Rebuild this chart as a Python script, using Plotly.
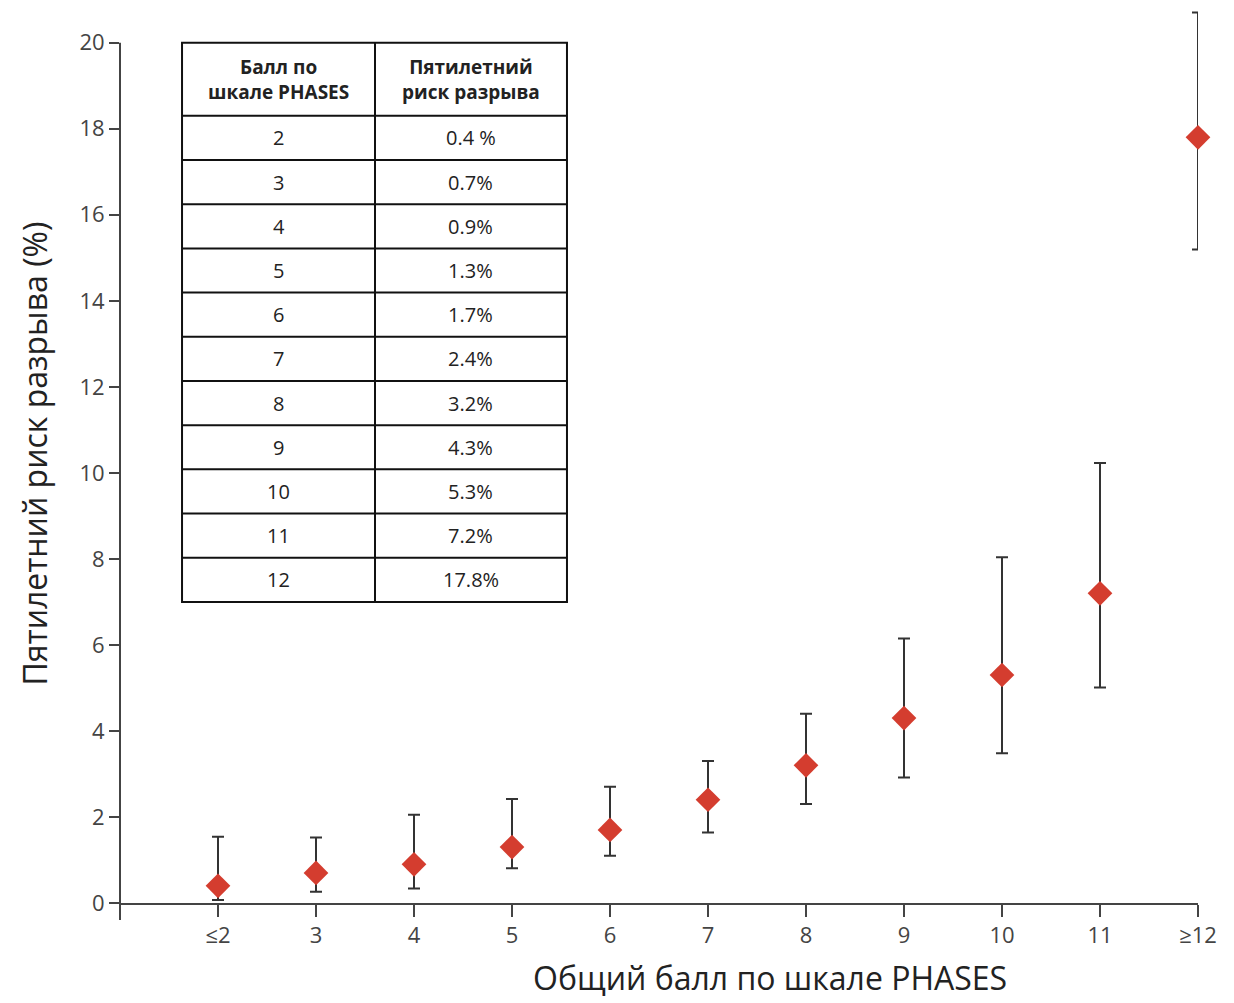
import plotly.graph_objects as go

# PHASES score categories and 5-year rupture risk (%)
categories = ['≤2', '3', '4', '5', '6', '7', '8', '9', '10', '11', '≥12']
risk = [0.4, 0.7, 0.9, 1.3, 1.7, 2.4, 3.2, 4.3, 5.3, 7.2, 17.8]
ci_high = [1.54, 1.52, 2.05, 2.42, 2.70, 3.30, 4.40, 6.15, 8.04, 10.23, 20.7]
ci_low = [0.07, 0.26, 0.34, 0.81, 1.10, 1.64, 2.30, 2.92, 3.48, 5.01, 15.19]

table_header = ['Балл по<br>шкале PHASES', 'Пятилетний<br>риск разрыва']
table_scores = ['2', '3', '4', '5', '6', '7', '8', '9', '10', '11', '12']
table_risk = ['0.4 %', '0.7%', '0.9%', '1.3%', '1.7%', '2.4%', '3.2%', '4.3%', '5.3%', '7.2%', '17.8%']

xpos = list(range(len(categories)))
err_plus = [h - r for h, r in zip(ci_high, risk)]
err_minus = [r - l for r, l in zip(risk, ci_low)]

YMAX = 20.9  # a bit of headroom so the top error bar is not clipped

fig = go.Figure()

fig.add_trace(go.Scatter(
    x=xpos, y=risk, mode='markers',
    marker=dict(symbol='diamond', size=19, color='#d43d2f'),
    error_y=dict(type='data', symmetric=False, array=err_plus, arrayminus=err_minus,
                 color='#333333', thickness=2, width=6),
    cliponaxis=False, showlegend=False, hoverinfo='skip'))

# --- inset table drawn in data coordinates ---
tx = [-0.367, 1.602, 3.561]        # column edges
t_top, t_head, t_bot = 20.0, 18.3, 7.0
nrows = len(table_scores)
row_h = (t_head - t_bot) / nrows
line = dict(color='#111111', width=2)

fig.add_shape(type='rect', x0=tx[0], x1=tx[2], y0=t_bot, y1=t_top, line=line)
fig.add_shape(type='line', x0=tx[1], x1=tx[1], y0=t_bot, y1=t_top, line=line)
for k in range(nrows):
    yk = t_bot + (k + 1) * row_h
    fig.add_shape(type='line', x0=tx[0], x1=tx[2], y0=yk, y1=yk, line=line)

for c in range(2):
    xc = (tx[c] + tx[c + 1]) / 2
    fig.add_annotation(x=xc, y=(t_top + t_head) / 2, text='<b>' + table_header[c] + '</b>',
                       showarrow=False, align='center',
                       font=dict(family='Open Sans', size=19, color='#222222'))
    col = table_scores if c == 0 else table_risk
    for i, v in enumerate(col):
        yc = t_head - (i + 0.5) * row_h
        fig.add_annotation(x=xc, y=yc, text=v, showarrow=False,
                           font=dict(family='Open Sans', size=20, color='#222222'))

# x-axis title sits right of centre in the reference
fig.add_annotation(xref='paper', yref='paper', x=0.603, y=-0.083, yanchor='middle',
                   text='Общий балл по шкале PHASES', showarrow=False,
                   font=dict(family='Open Sans', size=32, color='#222222'))

fig.update_xaxes(
    range=[-1, 10], tickvals=xpos, ticktext=categories,
    showline=True, linecolor='#444444', linewidth=2,
    ticks='outside', ticklen=12, tickwidth=2, tickcolor='#444444',
    showgrid=False, zeroline=False, automargin=False,
    tickfont=dict(family='Open Sans', size=22, color='#444444'))

fig.update_yaxes(
    range=[0, YMAX], tickvals=list(range(0, 21, 2)),
    showline=False,
    ticks='outside', ticklen=10, tickwidth=2, tickcolor='#444444',
    showgrid=False, zeroline=False, automargin=False,
    tickfont=dict(family='Open Sans', size=22, color='#444444'),
    title=dict(text='Пятилетний риск разрыва (%)', standoff=22,
               font=dict(family='Open Sans', size=32, color='#222222')))

# y-axis line: from a little below zero up to 20
fig.add_shape(type='line', xref='paper', yref='paper', x0=0, x1=0,
              y0=-0.019, y1=20 / YMAX, line=dict(color='#444444', width=2))

fig.update_layout(
    width=1234, height=1003,
    margin=dict(l=120, r=36, t=4, b=100),
    paper_bgcolor='white', plot_bgcolor='white',
    font=dict(family='Open Sans'))

fig.write_html("out.html", config={'displayModeBar': False},
               post_script="document.body.style.margin='0';")
